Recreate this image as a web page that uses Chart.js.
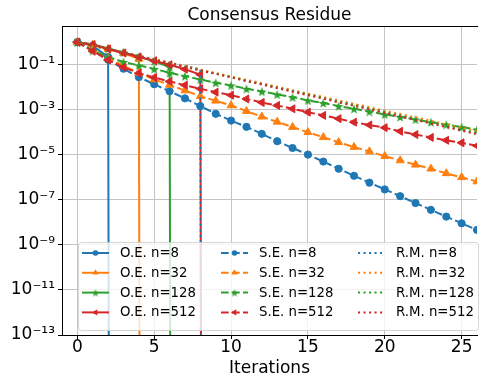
<!DOCTYPE html>
<html>
<head>
<meta charset="utf-8">
<script src="https://cdn.jsdelivr.net/npm/chart.js@4.4.0/dist/chart.umd.min.js"></script>
<style>
  html, body { margin: 0; padding: 0; background: #fff; overflow: hidden; }
</style>
</head>
<body>
<canvas id="chart" width="483" height="376" style="width:483px;height:376px"></canvas>
<script>
// Iterations on the x axis
const iterations = [0, 1, 2, 3, 4, 5, 6, 7, 8, 9, 10, 11, 12, 13, 14, 15, 16, 17, 18, 19, 20, 21, 22, 23, 24, 25, 26];
const xTicks = [0, 5, 10, 15, 20, 25];
const yTicks = [1e-13, 1e-11, 1e-9, 1e-7, 1e-5, 1e-3, 1e-1];
const yTickLabels = ["10⁻¹³", "10⁻¹¹", "10⁻⁹", "10⁻⁷", "10⁻⁵", "10⁻³", "10⁻¹"];
const sizes = ["8", "32", "128", "512"];

// O.E. reaches exact consensus (0) after a few steps
const oe8 = [1, 0.69, 0.22, 0];
const oe32 = [1, 0.76, 0.5, 0.32, 0.18, 0];
const oe128 = [1, 0.78, 0.52, 0.35, 0.23, 0.14, 0.079, 0];
const oe512 = [1, 0.78, 0.5, 0.33, 0.22, 0.15, 0.1, 0.063, 0.036, 0];

// S.E.
const se8 = [1, 0.45, 0.166, 0.066, 0.028, 0.0135, 6.6e-3, 3.2e-3, 1.45e-3, 6.6e-4, 3.3e-4, 1.74e-4, 8.5e-5, 4.0e-5, 2.0e-5, 1.02e-5, 5.0e-6, 2.4e-6, 1.17e-6, 5.8e-7, 2.9e-7, 1.45e-7, 7.2e-8, 3.6e-8, 1.8e-8, 9.1e-9, 4.6e-9];
const se32 = [1, 0.47, 0.2, 0.089, 0.043, 0.022, 0.0126, 7.1e-3, 4.0e-3, 2.5e-3, 1.55e-3, 8.7e-4, 4.9e-4, 2.9e-4, 1.7e-4, 1.0e-4, 6.0e-5, 3.6e-5, 2.2e-5, 1.4e-5, 8.7e-6, 5.6e-6, 3.6e-6, 2.4e-6, 1.5e-6, 1.0e-6, 6.5e-7];
const se128 = [1, 0.42, 0.22, 0.132, 0.093, 0.065, 0.044, 0.031, 0.022, 0.0158, 0.012, 8.5e-3, 6.5e-3, 4.8e-3, 3.6e-3, 2.6e-3, 2.0e-3, 1.45e-3, 1.1e-3, 8.3e-4, 6.2e-4, 4.8e-4, 3.7e-4, 2.8e-4, 2.2e-4, 1.7e-4, 1.3e-4];
const se512 = [1, 0.4, 0.16, 0.076, 0.042, 0.027, 0.018, 0.0123, 8.5e-3, 6.0e-3, 4.4e-3, 3.0e-3, 2.1e-3, 1.55e-3, 1.1e-3, 7.8e-4, 5.6e-4, 4.0e-4, 2.8e-4, 2.1e-4, 1.6e-4, 1.1e-4, 7.9e-5, 5.9e-5, 4.4e-5, 3.4e-5, 2.5e-5];

// R.M.
const rm8 = [1, 0.71, 0.5, 0.355, 0.25, 0.174, 0.123, 0.087, 0.063, 0];
const rm32 = [1, 0.71, 0.49, 0.35, 0.245, 0.174, 0.123, 0.087, 0.06, 0.043, 0.030, 0.0214, 0.0151, 0.0105, 7.4e-3, 5.2e-3, 3.7e-3, 2.6e-3, 1.82e-3, 1.29e-3, 9.1e-4, 6.5e-4, 4.6e-4, 3.2e-4, 2.2e-4, 1.6e-4, 1.12e-4];
const rm128 = [1, 0.69, 0.49, 0.34, 0.24, 0.166, 0.117, 0.081, 0.057, 0.040, 0.028, 0.0195, 0.0138, 9.5e-3, 6.8e-3, 4.7e-3, 3.3e-3, 2.3e-3, 1.62e-3, 1.12e-3, 7.9e-4, 5.5e-4, 3.9e-4, 2.7e-4, 1.9e-4, 1.32e-4, 9.3e-5];
const rm512 = [1, 0.69, 0.49, 0.34, 0.234, 0.162, 0.115, 0.079, 0.055, 0.039, 0.027, 0.0186, 0.0132, 9.1e-3, 6.3e-3, 4.4e-3, 3.1e-3, 2.1e-3, 1.48e-3, 1.05e-3, 7.2e-4, 5.0e-4, 3.5e-4, 2.45e-4, 1.7e-4, 1.17e-4, 8.3e-5];

const colors = ["#1f77b4", "#ff7f0e", "#2ca02c", "#d62728"];
const gridColor = "#c4c4c4";

Chart.defaults.font.family = "'DejaVu Sans', sans-serif";
Chart.defaults.color = "#000";

// filled 5-point star like matplotlib's '*' marker
function makeStar(size, color) {
  const c = document.createElement("canvas");
  c.width = size;
  c.height = size;
  const g = c.getContext("2d");
  const R = size / 2, r = R * 0.42;
  g.beginPath();
  for (let i = 0; i < 10; i++) {
    const rad = i % 2 ? r : R;
    const a = -Math.PI / 2 + i * Math.PI / 5;
    const px = R + Math.cos(a) * rad, py = R + 0.6 + Math.sin(a) * rad;
    if (i === 0) g.moveTo(px, py); else g.lineTo(px, py);
  }
  g.closePath();
  g.fillStyle = color;
  g.fill();
  return c;
}

const markers = [
  { style: "circle", rotation: 0, radius: 3.6 },
  { style: "triangle", rotation: 0, radius: 4.6 },
  { style: makeStar(10, colors[2]), rotation: 0, radius: 5, legendStar: makeStar(8, colors[2]) },
  { style: "triangle", rotation: -90, radius: 4.6 }
];

// log axis cannot show an exact 0: push it far below the axis so the drop is a vertical line
const ZERO_FLOOR = 1e-300;
function toPoints(values) {
  return values.map((v, i) => ({ x: iterations[i], y: v === 0 ? ZERO_FLOOR : v }));
}

const families = [
  { name: "O.E.", series: [oe8, oe32, oe128, oe512], dash: [], marker: true },
  { name: "S.E.", series: [se8, se32, se128, se512], dash: [7.7, 3.3], marker: true },
  { name: "R.M.", series: [rm8, rm32, rm128, rm512], dash: [2.1, 3.4], marker: false }
];

const datasets = [];
families.forEach(fam => {
  fam.series.forEach((values, k) => {
    const m = markers[k];
    datasets.push({
      label: `${fam.name} n=${sizes[k]}`,
      data: toPoints(values),
      borderColor: colors[k],
      backgroundColor: colors[k],
      borderWidth: 2,
      borderDash: fam.dash,
      pointStyle: m.style,
      pointRotation: m.rotation,
      pointRadius: fam.marker ? m.radius : 0,
      pointBorderWidth: 1,
      pointBackgroundColor: colors[k],
      pointBorderColor: colors[k],
      fill: false,
      tension: 0,
      _marker: fam.marker,
      _legendMarker: m
    });
  });
});
// later series sit on top, like the plotting order
datasets.forEach((ds, i) => { ds.order = datasets.length - i; });

function drawLegendMarker(ctx, m, x, y, color) {
  ctx.fillStyle = color;
  if (typeof m.style !== "string") {
    const img = m.legendStar;
    ctx.drawImage(img, x - img.width / 2, y - img.height / 2);
    return;
  }
  ctx.beginPath();
  if (m.style === "circle") {
    ctx.arc(x, y, 2.8, 0, Math.PI * 2);
  } else {
    let rad = m.rotation * Math.PI / 180;
    const r = 3.6;
    for (let i = 0; i < 3; i++) {
      const px = x + Math.sin(rad) * r, py = y - Math.cos(rad) * r;
      if (i === 0) ctx.moveTo(px, py); else ctx.lineTo(px, py);
      rad += 2 * Math.PI / 3;
    }
    ctx.closePath();
  }
  ctx.fill();
}

// legend inside the plot: 3 columns, 4 rows, column by column
const insideLegend = {
  id: "insideLegend",
  afterDraw(chart) {
    const ctx = chart.ctx;
    const box = { left: 78.5, top: 242.5, right: 478.5, bottom: 330.5 };
    const colX = [82, 221, 358];
    const rowY = [253, 272.8, 292.6, 312.4];
    ctx.save();
    ctx.beginPath();
    ctx.roundRect(box.left, box.top, box.right - box.left, box.bottom - box.top, 3);
    ctx.fillStyle = "rgba(255,255,255,0.8)";
    ctx.fill();
    ctx.strokeStyle = "rgba(204,204,204,0.8)";
    ctx.lineWidth = 1;
    ctx.stroke();

    ctx.font = "13.3px 'DejaVu Sans', sans-serif";
    ctx.textBaseline = "middle";
    ctx.textAlign = "left";
    chart.data.datasets.forEach((ds, i) => {
      const col = Math.floor(i / 4), row = i % 4;
      const x0 = colX[col], y = rowY[row];
      ctx.beginPath();
      ctx.setLineDash(ds.borderDash);
      ctx.lineDashOffset = 0;
      ctx.strokeStyle = ds.borderColor;
      ctx.lineWidth = 2;
      ctx.moveTo(x0, y);
      ctx.lineTo(x0 + 27, y);
      ctx.stroke();
      ctx.setLineDash([]);
      if (ds._marker) drawLegendMarker(ctx, ds._legendMarker, x0 + 13.5, y, ds.borderColor);
      ctx.fillStyle = "#000";
      ctx.fillText(ds.label, x0 + 38, y + 0.5);
    });
    ctx.restore();
  }
};

new Chart(document.getElementById("chart"), {
  type: "line",
  data: { datasets },
  options: {
    responsive: false,
    animation: false,
    layout: { padding: 0 },
    plugins: {
      legend: { display: false },
      tooltip: { enabled: false },
      title: {
        display: true,
        text: "Consensus Residue",
        fullSize: false,
        color: "#000",
        font: { size: 17, weight: "normal", lineHeight: 1.2 },
        padding: { top: 5, bottom: 1 }
      }
    },
    scales: {
      x: {
        type: "linear",
        min: -1,
        max: 26,
        afterBuildTicks: s => { s.ticks = xTicks.map(v => ({ value: v })); },
        afterFit: s => { s.height = 41; },
        grid: { color: gridColor, lineWidth: 1, tickLength: 4, tickColor: "#000" },
        border: { color: "#000", width: 1 },
        ticks: { font: { size: 17, lineHeight: 1 }, padding: 0, maxRotation: 0, color: "#000" },
        title: { display: true, text: "Iterations", color: "#000", font: { size: 17, lineHeight: 1.2 }, padding: { top: 0, bottom: -3 } }
      },
      xTop: {
        type: "linear",
        position: "top",
        min: -1,
        max: 26,
        grid: { display: false, drawTicks: false },
        ticks: { display: false },
        border: { display: true, color: "#000", width: 1 },
        afterFit: s => { s.height = 0; }
      },
      y: {
        type: "logarithmic",
        min: 1e-13,
        max: 5,
        afterBuildTicks: s => { s.ticks = yTicks.map(v => ({ value: v })); },
        afterFit: s => { s.width = 62; },
        grid: { color: gridColor, lineWidth: 1, tickLength: 4, tickColor: "#000" },
        border: { color: "#000", width: 1 },
        ticks: {
          font: { size: 17 },
          padding: 3,
          color: "#000",
          callback: (value, index) => yTickLabels[index]
        }
      }
    }
  },
  plugins: [insideLegend]
});
</script>
</body>
</html>
